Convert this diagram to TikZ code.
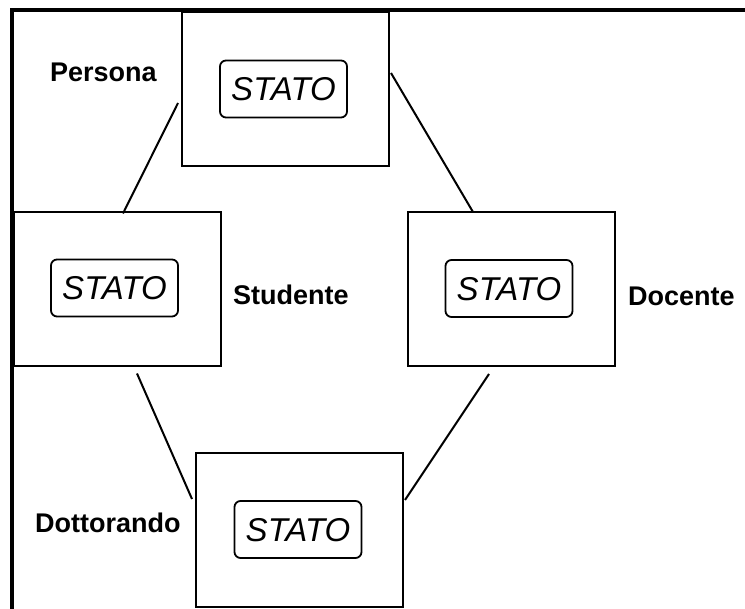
\documentclass[tikz,border=0pt]{standalone}
\usepackage{fontspec}
\setmainfont{Liberation Sans}
\begin{document}
\begin{tikzpicture}[x=1pt,y=-1pt,
  classbox/.style={draw, line width=2pt, inner sep=0pt, minimum width=207pt, minimum height=154pt},
  statebox/.style={draw, line width=1.8pt, rounded corners=6pt, inner sep=0pt,
    minimum width=127pt, minimum height=57pt, text height=24pt, text depth=0pt,
    font=\fontsize{33}{38}\selectfont\itshape},
  classlabel/.style={anchor=base west, inner sep=0pt, font=\fontsize{27}{32}\selectfont\bfseries},
  link/.style={line width=2pt}]
\useasboundingbox (0,0) rectangle (745,609);

% class boxes
\node[classbox] (persona)    at (285.5,89.5) {};
\node[classbox] (studente)   at (117,289.5)  {};
\node[classbox] (docente)    at (511.5,289)  {};
\node[classbox] (dottorando) at (299.5,530)  {};

% state boxes
\node[statebox] (spersona)    at (283.5,89)  {STATO};
\node[statebox] (sstudente)   at (114.5,288) {STATO};
\node[statebox] (sdocente)    at (509,288.5) {STATO};
\node[statebox] (sdottorando) at (298,529.5) {STATO};

% labels
\node[classlabel] (lpersona)    at (50,82)   {Persona};
\node[classlabel] (lstudente)   at (233,305) {Studente};
\node[classlabel] (ldocente)    at (628,306) {Docente};
\node[classlabel] (ldottorando) at (35,533)  {Dottorando};

% connectors
\draw[link] ([xshift=-3pt,yshift=-13.5pt]persona.west) -- ([xshift=6pt,yshift=-2pt]studente.north);
\draw[link] ([xshift=1pt,yshift=16.5pt]persona.east) -- ([xshift=-38.5pt,yshift=-1pt]docente.north);
\draw[link] ([xshift=20pt,yshift=-6pt]studente.south) -- ([xshift=-3pt,yshift=31pt]dottorando.west);
\draw[link] ([xshift=-22.5pt,yshift=-7pt]docente.south) -- ([xshift=1pt,yshift=30pt]dottorando.east);

% frame
\draw[line width=4pt, line join=miter] (12,609) -- (12,10) -- (745,10);
\end{tikzpicture}
\end{document}
